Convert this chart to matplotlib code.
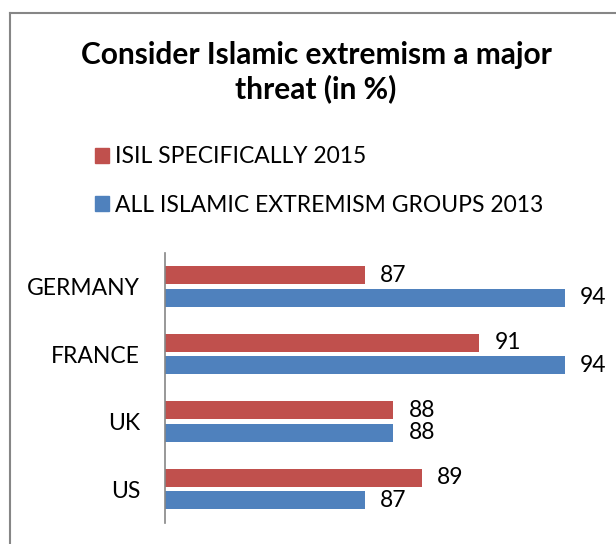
import numpy as np
import matplotlib.pyplot as plt
from matplotlib.lines import Line2D
from matplotlib.patches import Patch

# data
countries = ["GERMANY", "FRANCE", "UK", "US"]
isil_2015 = [87, 91, 88, 89]
all_groups_2013 = [94, 94, 88, 87]
series_names = ["ISIL SPECIFICALLY 2015", "ALL ISLAMIC EXTREMISM GROUPS 2013"]
title = "Consider Islamic extremism a major\nthreat (in %)"

red = "#C0504D"
blue = "#4F81BD"
plt.rcParams["font.family"] = ["Lato", "DejaVu Sans"]

fig = plt.figure(figsize=(6.16, 5.44), dpi=100)
ax = fig.add_axes([0.268, 0.039, 0.695, 0.496])

y = np.arange(len(countries))
h = 0.265
off = 0.167
b1 = ax.barh(y - off, isil_2015, height=h, color=red, left=0)
b2 = ax.barh(y + off, all_groups_2013, height=h, color=blue, left=0)
ax.bar_label(b1, padding=11, fontsize=16.5, clip_on=False)
ax.bar_label(b2, padding=11, fontsize=16.5, clip_on=False)

ax.set_xlim(80, 95)
ax.set_ylim(len(countries) - 0.5, -0.5)
ax.set_yticks(y)
ax.set_yticklabels(countries, fontsize=16.5)
ax.tick_params(axis="y", length=0, pad=18)
ax.set_xticks([])
for s in ["top", "right", "bottom"]:
    ax.spines[s].set_visible(False)
ax.spines["left"].set_color("#868686")
ax.spines["left"].set_linewidth(1.2)

# title and legend
fig.text(0.513, 0.867, title, ha="center", va="center", fontsize=21.5,
         fontweight="bold", linespacing=1.2)
handles = [Patch(color=red), Patch(color=blue)]
fig.legend(handles, series_names, loc="upper left", bbox_to_anchor=(0.154, 0.731),
           frameon=False, fontsize=16.5, handlelength=0.6, handleheight=0.6,
           handletextpad=0.3, labelspacing=1.2, borderaxespad=0, borderpad=0)

# outer chart border (cropped at right and bottom)
fig.add_artist(Line2D([0.0162, 0.0162], [0, 0.977], color="#868686", lw=1.5))
fig.add_artist(Line2D([0.0162, 1.0], [0.977, 0.977], color="#868686", lw=1.5))

fig.savefig("out.png", dpi=100)
